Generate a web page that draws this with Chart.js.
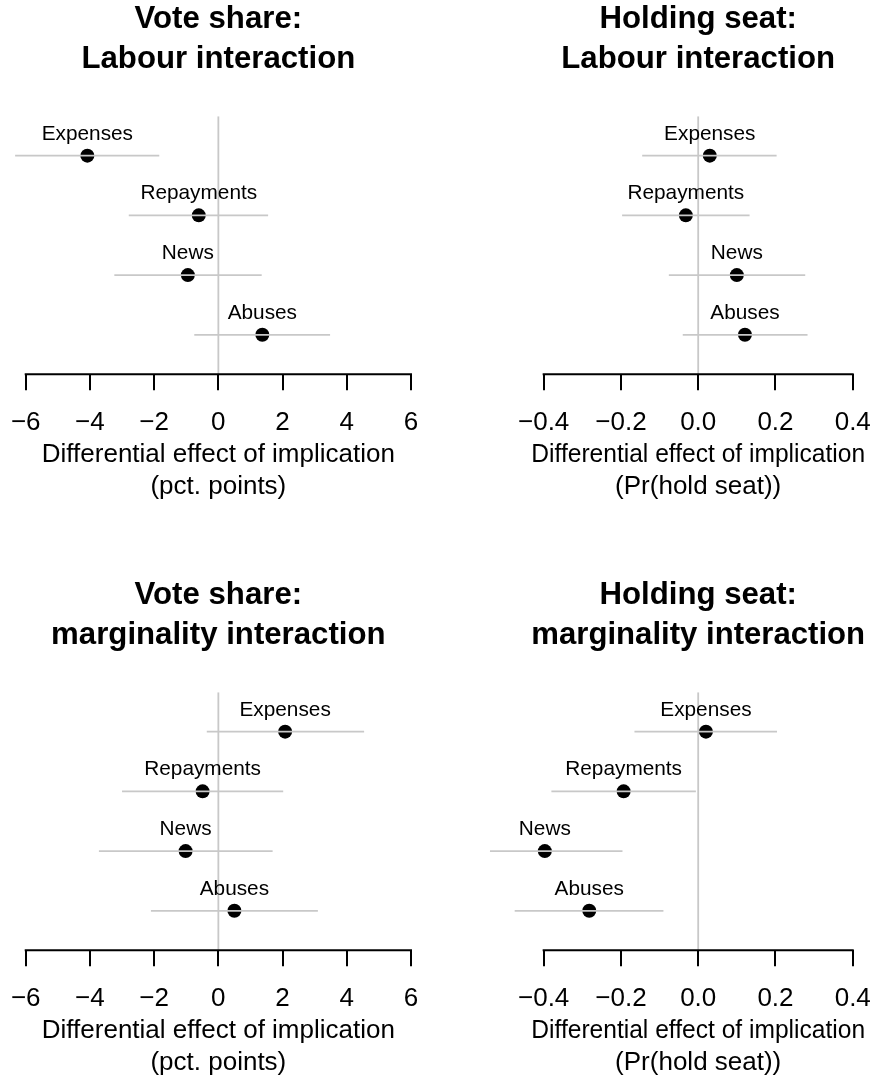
<!DOCTYPE html>
<html>
<head>
<meta charset="utf-8">
<title>Differential effect of implication</title>
<script src="https://cdn.jsdelivr.net/npm/chart.js@4.4.1/dist/chart.umd.min.js"></script>
<style>
  html, body { margin: 0; padding: 0; background: #fff; }
  body { width: 882px; height: 1078px; position: relative; overflow: hidden; }
  .panel { position: absolute; width: 441px; height: 502px; }
</style>
</head>
<body>
<div class="panel" style="left:0;top:0"><canvas id="voteLab"></canvas></div>
<div class="panel" style="left:441px;top:0"><canvas id="seatLab"></canvas></div>
<div class="panel" style="left:0;top:576px"><canvas id="voteMar"></canvas></div>
<div class="panel" style="left:441px;top:576px"><canvas id="seatMar"></canvas></div>
<script>
const FONT = '"Liberation Sans", Arial, Helvetica, sans-serif';

const categories = ["Expenses", "Repayments", "News", "Abuses"];
const rowPos = [4, 3, 2, 1];

// vote share, Labour interaction (pct. points)
const voteLabEst = [-4.08, -0.61, -0.95, 1.37];
const voteLabLo  = [-6.33, -2.79, -3.24, -0.75];
const voteLabHi  = [-1.84, 1.55, 1.35, 3.48];

// holding seat, Labour interaction (Pr(hold seat))
const seatLabEst = [0.030, -0.032, 0.100, 0.121];
const seatLabLo  = [-0.145, -0.197, -0.076, -0.040];
const seatLabHi  = [0.203, 0.133, 0.277, 0.283];

// vote share, marginality interaction
const voteMarEst = [2.08, -0.49, -1.02, 0.50];
const voteMarLo  = [-0.36, -3.00, -3.72, -2.10];
const voteMarHi  = [4.54, 2.02, 1.69, 3.10];

// holding seat, marginality interaction
const seatMarEst = [0.020, -0.193, -0.397, -0.282];
const seatMarLo  = [-0.165, -0.380, -0.539, -0.475];
const seatMarHi  = [0.204, -0.006, -0.196, -0.090];

const voteTicks = [-6, -4, -2, 0, 2, 4, 6];
const seatTicks = [-0.4, -0.2, 0, 0.2, 0.4];

const Y_MIN = 0.34, Y_MAX = 4.66;
const GREY = "#c8c8c8";

function fmtTick(v, digits) {
  const s = Math.abs(v).toFixed(digits);
  return v < -1e-9 ? "\u2212" + s : s;
}

function makeChart(id, title, xlab, est, lo, hi, ticks, digits, pad) {
  const span = ticks[ticks.length - 1] - ticks[0];
  const xMin = ticks[0] - 0.04 * span, xMax = ticks[ticks.length - 1] + 0.04 * span;

  const ciSets = est.map((_, i) => ({
    type: "line", showLine: true, order: 0, clip: false,
    data: [{ x: lo[i], y: rowPos[i] }, { x: hi[i], y: rowPos[i] }],
    borderColor: GREY, borderWidth: 1.8, pointRadius: 0
  }));

  // category names above each point + axis line between first and last tick
  const extras = {
    id: "extras",
    afterDatasetsDraw(chart) {
      const { x, y } = chart.scales, ctx = chart.ctx;
      ctx.save();
      ctx.font = "20.8px " + FONT;
      ctx.fillStyle = "#000";
      ctx.textAlign = "center";
      ctx.textBaseline = "alphabetic";
      est.forEach((v, i) => {
        ctx.fillText(categories[i], x.getPixelForValue(v), y.getPixelForValue(rowPos[i]) - 16);
      });
      const yb = chart.chartArea.bottom;
      ctx.strokeStyle = "#000";
      ctx.lineWidth = 2;
      ctx.beginPath();
      ctx.moveTo(x.getPixelForValue(ticks[0]) - 1, yb);
      ctx.lineTo(x.getPixelForValue(ticks[ticks.length - 1]) + 1, yb);
      ctx.stroke();
      ctx.restore();
    }
  };

  return new Chart(document.getElementById(id), {
    type: "scatter",
    data: {
      datasets: [
        ...ciSets,
        {
          order: 1,
          data: est.map((v, i) => ({ x: v, y: rowPos[i] })),
          backgroundColor: "#000", borderColor: "#000", borderWidth: 0,
          pointRadius: 7, pointHoverRadius: 7
        },
        {
          type: "line", showLine: true, order: 2,
          data: [{ x: 0, y: Y_MIN }, { x: 0, y: Y_MAX }],
          borderColor: GREY, borderWidth: 1.8, pointRadius: 0
        }
      ]
    },
    options: {
      responsive: true, maintainAspectRatio: false, animation: false,
      events: [],
      layout: { padding: { left: pad[0], right: pad[1], top: 0, bottom: 0 } },
      plugins: {
        legend: { display: false },
        tooltip: { enabled: false },
        title: {
          display: true, text: title, color: "#000",
          font: { family: FONT, size: 31.2, weight: "bold", lineHeight: 1.27 },
          padding: { top: 0, bottom: 37 }
        }
      },
      scales: {
        x: {
          type: "linear", min: xMin, max: xMax,
          afterBuildTicks: (axis) => { axis.ticks = ticks.map((v) => ({ value: v })); },
          afterFit: (axis) => { axis.paddingLeft = 0; axis.paddingRight = 0; },
          grid: { display: true, drawOnChartArea: false, drawTicks: true, tickLength: 16, color: "#000", lineWidth: 2 },
          border: { display: false },
          ticks: {
            color: "#000", padding: 17.4, maxRotation: 0, autoSkip: false,
            font: { family: FONT, size: 26, lineHeight: 1.2 },
            callback: (v) => fmtTick(v, digits)
          },
          title: {
            display: true, text: xlab, color: "#000",
            font: { family: FONT, size: 26, lineHeight: 1.2 },
            padding: { top: -16.6, bottom: 0 }
          }
        },
        y: { type: "linear", min: Y_MIN, max: Y_MAX, display: false }
      }
    },
    plugins: [extras]
  });
}

const voteXlab = ["Differential effect of implication", "(pct. points)"];
const seatXlab = ["Differential effect of implication", "(Pr(hold seat))"];

makeChart("voteLab", ["Vote share:", "Labour interaction"], voteXlab,
  voteLabEst, voteLabLo, voteLabHi, voteTicks, 0, [10.3, 14.6]);
makeChart("seatLab", ["Holding seat:", "Labour interaction"], seatXlab,
  seatLabEst, seatLabLo, seatLabHi, seatTicks, 1, [90.3, 16.9]);
makeChart("voteMar", ["Vote share:", "marginality interaction"], voteXlab,
  voteMarEst, voteMarLo, voteMarHi, voteTicks, 0, [10.3, 14.6]);
makeChart("seatMar", ["Holding seat:", "marginality interaction"], seatXlab,
  seatMarEst, seatMarLo, seatMarHi, seatTicks, 1, [90.3, 16.9]);
</script>
</body>
</html>
